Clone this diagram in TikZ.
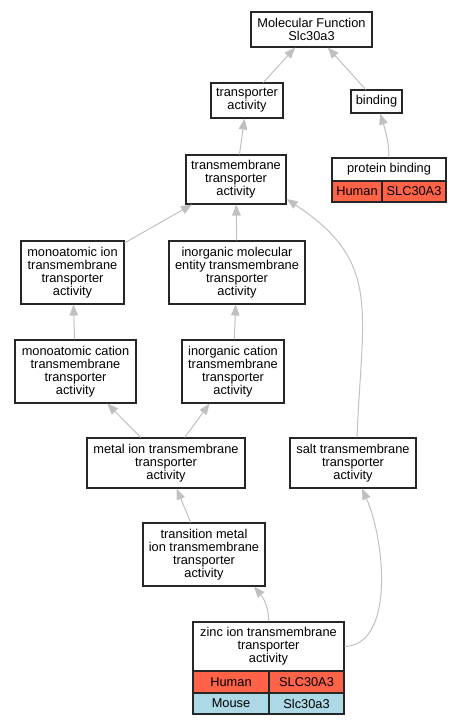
\documentclass[tikz,border=0pt]{standalone}
\usepackage{fontspec}
\setmainfont{Liberation Sans}
\usepackage{tikz}
\usetikzlibrary{arrows.meta}
\definecolor{edgegray}{HTML}{C0C0C0}
\definecolor{human}{HTML}{FF6347}
\definecolor{mouse}{HTML}{ADD8E6}

\begin{document}
\begin{tikzpicture}[x=1pt, y=-1pt, font=\fontsize{12.8}{12.9}\selectfont,
		box/.style={draw=black!85, line width=1.1pt, rectangle, inner sep=0pt, align=center, fill=white},
		cell/.style={box, minimum height=22pt},
		edge/.style={-{Triangle[length=11pt, width=8.5pt]}, edgegray, line width=1pt}]
		
		\useasboundingbox (0,0) rectangle (463,725);
		
		% Nodes
		\node[box, minimum width=121pt, minimum height=35pt] (A) at (311.5,29.5) {Molecular Function\\Slc30a3};
		\node[box, minimum width=72pt, minimum height=35pt] (B) at (247,100.5) {transporter\\activity};
		\node[box, minimum width=51pt, minimum height=23pt] (C) at (376.5,101.5) {binding};
		
		\node[box, minimum width=114pt, minimum height=23pt] (D) at (389,169.5) {protein binding};
		\node[cell, fill=human, minimum width=50pt, minimum height=21pt] (D1) at (357,191.5) {Human};
		\node[cell, fill=human, minimum width=64pt, minimum height=21pt] (D2) at (414,191.5) {SLC30A3};
		
		\node[box, minimum width=100pt, minimum height=49pt] (E) at (236,179.5) {transmembrane\\transporter\\activity};
		\node[box, minimum width=103pt, minimum height=63pt] (F) at (72.5,272.5) {monoatomic ion\\transmembrane\\transporter\\activity};
		\node[box, minimum width=136pt, minimum height=63pt] (G) at (237,272.5) {inorganic molecular\\entity transmembrane\\transporter\\activity};
		\node[box, minimum width=121pt, minimum height=63pt] (H) at (75.5,371.5) {monoatomic cation\\transmembrane\\transporter\\activity};
		\node[box, minimum width=102pt, minimum height=63pt] (I) at (233,371.5) {inorganic cation\\transmembrane\\transporter\\activity};
		\node[box, minimum width=158pt, minimum height=50pt] (J) at (166,463) {metal ion transmembrane\\transporter\\activity};
		\node[box, minimum width=126pt, minimum height=50pt] (K) at (353,463) {salt transmembrane\\transporter\\activity};
		\node[box, minimum width=122pt, minimum height=63pt] (L) at (204,554.5) {transition metal\\ion transmembrane\\transporter\\activity};
		
		\node[box, minimum width=151pt, minimum height=49pt] (M) at (268.5,646.5) {zinc ion transmembrane\\transporter\\activity};
		\node[cell, fill=human, minimum width=76pt] (M1) at (231,682) {Human};
		\node[cell, fill=human, minimum width=75pt] (M2) at (306.5,682) {SLC30A3};
		\node[cell, fill=mouse, minimum width=76pt, minimum height=21pt] (M3) at (231,703.5) {Mouse};
		\node[cell, fill=mouse, minimum width=75pt, minimum height=21pt] (M4) at (306.5,703.5) {Slc30a3};
		
		% Arrows
		\draw[edge] (B) -- (A);
		\draw[edge] (C) -- (A);
		\draw[edge] (D) .. controls (389,140) and (384,126) .. (C);
		\draw[edge] (E) -- (B);
		\draw[edge] (F) -- (E);
		\draw[edge] (G) -- (E);
		\draw[edge] (H) -- (F);
		\draw[edge] (I) -- (G);
		\draw[edge] (J) -- (H);
		\draw[edge] (J) -- (I);
		\draw[edge] (L) -- (J);
		\draw[edge] (M.north) .. controls (269,606) and (262,596) .. ([xshift=50pt]L.south);
		\draw[edge] (M.east) .. controls (395,645) and (385,540) .. ([xshift=9pt]K.south);
		\draw[edge] ([xshift=4pt]K.north) .. controls (362,310) and (382,262) .. ([yshift=-19.5pt]E.east);
		
\end{tikzpicture}
\end{document}
